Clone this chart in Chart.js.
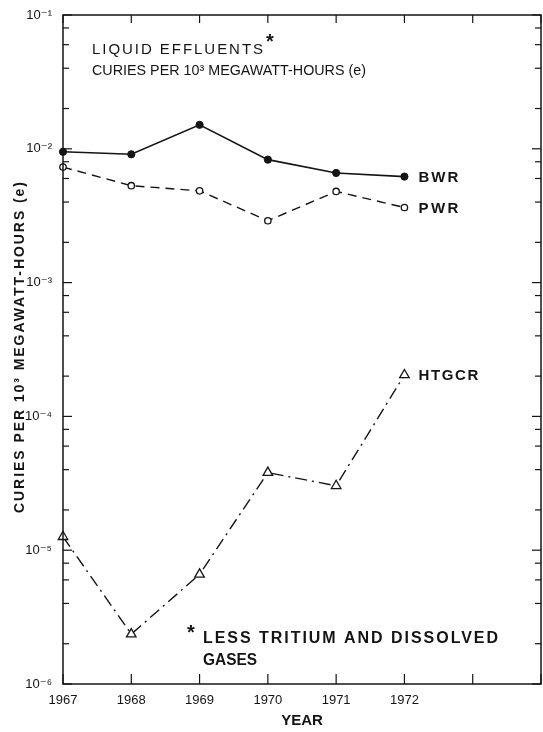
<!DOCTYPE html>
<html>
<head>
<meta charset="utf-8">
<script src="https://cdn.jsdelivr.net/npm/chart.js@4/dist/chart.umd.min.js"></script>
<style>
html,body{margin:0;padding:0;background:#fff;}
canvas{display:block;}
</style>
</head>
<body>
<canvas id="c" width="543" height="732"></canvas>
<script>
// ---- data ----
const years = [1967, 1968, 1969, 1970, 1971, 1972];
const bwr   = [0.0095, 0.0091, 0.0151, 0.0083, 0.0066, 0.0062];
const pwr   = [0.0073, 0.0053, 0.00485, 0.0029, 0.0048, 0.00364];
const htgcr = [1.26e-5, 2.36e-6, 6.6e-6, 3.8e-5, 3.03e-5, 2.04e-4];

const seriesNames = ['BWR', 'PWR', 'HTGCR'];

const xTickYears  = [1967, 1968, 1969, 1970, 1971, 1972, 1973, 1974];
const xTickLabels = ['1967', '1968', '1969', '1970', '1971', '1972', '', ''];

const yDecades      = [1e-6, 1e-5, 1e-4, 1e-3, 1e-2, 1e-1];
const yDecadeLabels = ['10\u207B\u2076', '10\u207B\u2075', '10\u207B\u2074', '10\u207B\u00B3', '10\u207B\u00B2', '10\u207B\u00B9'];
const yMinorSteps   = [2, 4, 6, 8];

const titleLines = ['LIQUID EFFLUENTS', 'CURIES PER 10\u00B3 MEGAWATT-HOURS (e)'];
const footnoteLines = ['LESS TRITIUM AND DISSOLVED', 'GASES'];
const yTitle = 'CURIES PER 10\u00B3 MEGAWATT-HOURS (e)';
const xTitle = 'YEAR';

const FONT = "'Liberation Sans', 'DejaVu Sans', Arial, sans-serif";
const INK = '#141414';

function pts(vals){ return years.map((yr, i) => ({x: yr, y: vals[i]})); }
function isDecade(v){ return yDecades.some(d => Math.abs(v - d) / d < 1e-6); }
function decadeLabel(v){
  const i = yDecades.findIndex(d => Math.abs(v - d) / d < 1e-6);
  return i >= 0 ? yDecadeLabels[i] : '';
}

// draw text stretched to a target width using letter spacing
function spacedText(ctx, text, x, y, font, width){
  ctx.font = font;
  if ('letterSpacing' in ctx) ctx.letterSpacing = '0px';
  const w = ctx.measureText(text).width;
  const n = text.length;
  if (width && w < width && 'letterSpacing' in ctx && n > 1) {
    ctx.letterSpacing = ((width - w) / (n - 1)) + 'px';
    ctx.fillText(text, x, y);
    ctx.letterSpacing = '0px';
  } else if (width && w > width) {
    ctx.fillText(text, x, y, width);
  } else {
    ctx.fillText(text, x, y);
  }
}

const whiteBg = {
  id: 'whiteBg',
  beforeDraw(chart){
    const c = chart.ctx;
    c.save(); c.fillStyle = '#fff'; c.fillRect(0, 0, chart.width, chart.height); c.restore();
  }
};

const frameTicks = {
  id: 'frameTicks',
  afterDraw(chart){
    const {ctx, chartArea: {left, right, top, bottom}, scales: {x, y}} = chart;
    ctx.save();
    ctx.strokeStyle = INK;
    ctx.lineWidth = 1.5;
    ctx.strokeRect(left, top, right - left, bottom - top);
    ctx.lineWidth = 1.2;
    const line = (a, b, c, d) => { ctx.beginPath(); ctx.moveTo(a, b); ctx.lineTo(c, d); ctx.stroke(); };
    y.ticks.forEach(t => {
      const py = y.getPixelForValue(t.value);
      const len = isDecade(t.value) ? 9 : 6;
      line(left, py, left + len, py);
      line(right, py, right - len, py);
    });
    x.ticks.forEach(t => {
      const px = x.getPixelForValue(t.value);
      line(px, bottom, px, bottom - 10);
      line(px, top, px, top + 8);
    });
    ctx.restore();
  }
};

const annotations = {
  id: 'annotations',
  afterDraw(chart){
    const ctx = chart.ctx;
    ctx.save();
    ctx.fillStyle = INK;
    ctx.textAlign = 'left';
    ctx.textBaseline = 'alphabetic';
    // title block
    spacedText(ctx, titleLines[0], 92, 54, `15px ${FONT}`, 171);
    ctx.font = `bold 20px ${FONT}`;
    ctx.fillText('*', 266, 48);
    spacedText(ctx, titleLines[1], 92, 75, `15px ${FONT}`, 274);
    // footnote
    ctx.font = `bold 20px ${FONT}`;
    ctx.fillText('*', 187, 639);
    spacedText(ctx, footnoteLines[0], 203, 643, `bold 16px ${FONT}`, 295);
    spacedText(ctx, footnoteLines[1], 203, 665, `bold 16px ${FONT}`, 54);
    // series labels at last points
    ctx.textBaseline = 'middle';
    chart.data.datasets.forEach((ds, i) => {
      const meta = chart.getDatasetMeta(i);
      const el = meta.data[meta.data.length - 1];
      spacedText(ctx, seriesNames[i], el.x + 14, el.y + 1, `bold 15px ${FONT}`, i === 2 ? 60 : 40);
    });
    // y axis title
    ctx.save();
    ctx.translate(20, 513);
    ctx.rotate(-Math.PI / 2);
    ctx.textBaseline = 'middle';
    spacedText(ctx, yTitle, 0, 0, `bold 14px ${FONT}`, 331);
    ctx.restore();
    ctx.restore();
  }
};

new Chart(document.getElementById('c'), {
  type: 'line',
  data: {
    datasets: [
      {
        label: seriesNames[0], data: pts(bwr),
        borderColor: INK, borderWidth: 1.6,
        pointStyle: 'circle', pointRadius: 3.6, pointBackgroundColor: INK, pointBorderColor: INK, pointBorderWidth: 1,
        tension: 0, clip: false
      },
      {
        label: seriesNames[1], data: pts(pwr),
        borderColor: INK, borderWidth: 1.4, borderDash: [9, 6],
        pointStyle: 'circle', pointRadius: 3.2, pointBackgroundColor: '#fff', pointBorderColor: INK, pointBorderWidth: 1.3,
        tension: 0, clip: false
      },
      {
        label: seriesNames[2], data: pts(htgcr),
        borderColor: INK, borderWidth: 1.4, borderDash: [12, 5, 2, 5],
        pointStyle: 'triangle', pointRadius: 5.5, pointBackgroundColor: '#fff', pointBorderColor: INK, pointBorderWidth: 1.3,
        tension: 0, clip: false
      }
    ]
  },
  options: {
    responsive: false,
    devicePixelRatio: 1,
    animation: false,
    layout: { autoPadding: false, padding: { top: 15, right: 2, left: 0, bottom: 0 } },
    plugins: { legend: { display: false }, title: { display: false }, tooltip: { enabled: false } },
    scales: {
      x: {
        type: 'linear', position: 'bottom',
        min: 1967, max: 1974,
        afterBuildTicks(scale){ scale.ticks = xTickYears.map(v => ({value: v})); },
        afterFit(scale){ scale.height = 48; scale.paddingLeft = 0; scale.paddingRight = 0; },
        grid: { display: false, drawTicks: false },
        border: { display: false },
        ticks: {
          autoSkip: false, maxRotation: 0, padding: 9, color: INK,
          font: { family: FONT, size: 13 },
          callback(v){ const i = xTickYears.indexOf(v); return i >= 0 ? xTickLabels[i] : ''; }
        },
        title: {
          display: true, text: xTitle, color: INK,
          font: { family: FONT, size: 15, weight: 'bold' },
          padding: { top: 0, bottom: 2 }
        }
      },
      y: {
        type: 'logarithmic', position: 'left',
        min: yDecades[0], max: yDecades[yDecades.length - 1],
        afterBuildTicks(scale){
          const t = [];
          yDecades.forEach((d, i) => {
            t.push({value: d});
            if (i < yDecades.length - 1) yMinorSteps.forEach(m => t.push({value: d * m}));
          });
          scale.ticks = t;
        },
        afterFit(scale){ scale.width = 63; scale.paddingTop = 0; scale.paddingBottom = 0; },
        grid: { display: false, drawTicks: false },
        border: { display: false },
        ticks: {
          autoSkip: false, padding: 11, color: INK,
          font: { family: FONT, size: 13 },
          callback(v){ return decadeLabel(v); }
        }
      }
    }
  },
  plugins: [whiteBg, frameTicks, annotations]
});
</script>
</body>
</html>
